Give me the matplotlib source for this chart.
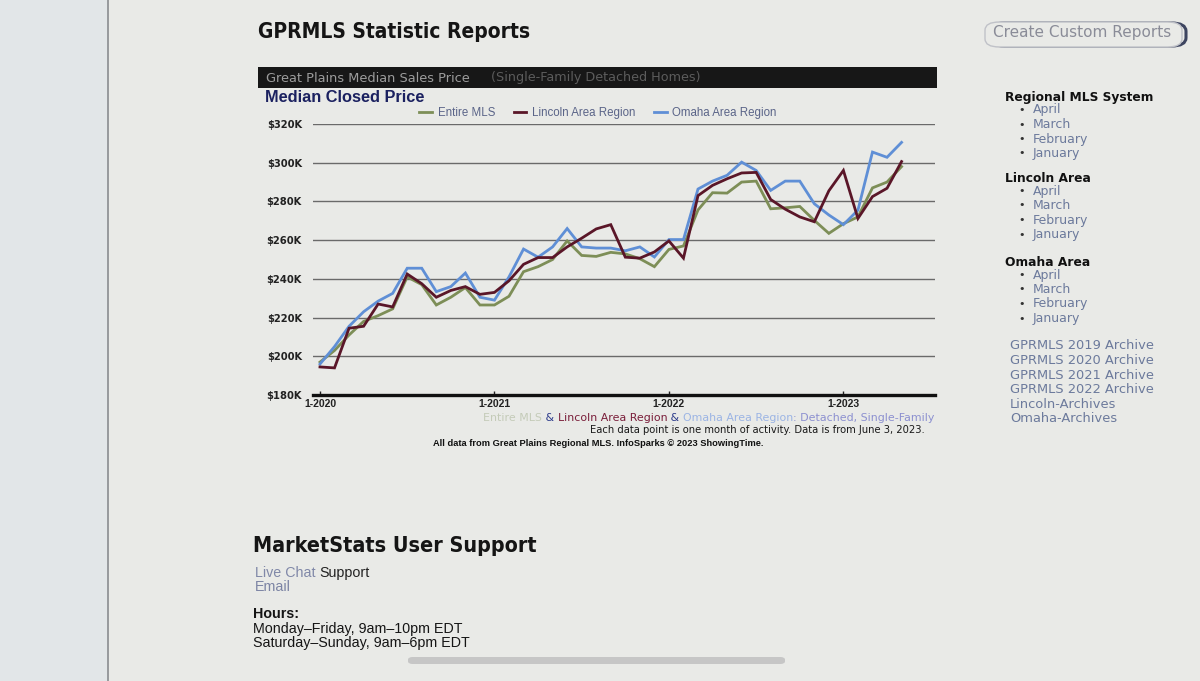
import numpy as np
import matplotlib.pyplot as plt
from matplotlib.patches import FancyBboxPatch, Rectangle
from matplotlib.lines import Line2D

W, H = 1200, 681

# monthly median closed price, $K, 1-2020 .. 5-2023
entire_mls = [197, 203, 211, 218, 221, 224.5, 241, 237, 226.5, 230.5, 235.5, 226.5,
              226.5, 231, 243.7, 246.3, 250, 259.6, 252.1, 251.6, 253.7, 252.9, 250.4, 246.3,
              255.2, 257, 275.6, 284.5, 284.3, 290, 290.5, 276.2, 276.7, 277.4, 270.2, 263.5,
              268.5, 272, 287, 290, 298]
lincoln = [194.5, 194, 214.5, 215.5, 227, 225.5, 242.5, 237.5, 230.5, 234, 236, 232,
           233, 239, 247.5, 251, 251, 256.5, 261, 265.8, 268, 251.2, 250.7, 253.9,
           259.6, 250.7, 283, 288.3, 291.7, 294.7, 295, 281, 276, 272, 269.5, 285.5,
           296, 271.2, 282.5, 286.8, 300.6]
omaha = [196, 205, 215.5, 223, 228.5, 232.5, 245.5, 245.5, 233.4, 236, 243, 230.5,
         229, 241, 255.4, 251.2, 256.5, 266, 256.5, 255.9, 255.9, 254.5, 256.5, 251.3,
         260.3, 260.3, 286.4, 290.5, 293.5, 300.3, 296, 285.7, 290.5, 290.5, 278.8, 273,
         268, 275.5, 305.5, 302.8, 310.5]
series_names = ['Entire MLS', 'Lincoln Area Region', 'Omaha Area Region']
series_colors = ['#7d8e57', '#5a1628', '#5f8fd6']

x_tick_pos = [0, 12, 24, 36]
x_tick_labels = ['1-2020', '1-2021', '1-2022', '1-2023']
y_ticks = [180, 200, 220, 240, 260, 280, 300, 320]
y_tick_labels = ['$180K', '$200K', '$220K', '$240K', '$260K', '$280K', '$300K', '$320K']

sidebar = [
    ('Regional MLS System', ['April', 'March', 'February', 'January']),
    ('Lincoln Area', ['April', 'March', 'February', 'January']),
    ('Omaha Area', ['April', 'March', 'February', 'January']),
]
archives = ['GPRMLS 2019 Archive', 'GPRMLS 2020 Archive', 'GPRMLS 2021 Archive',
            'GPRMLS 2022 Archive', 'Lincoln-Archives', 'Omaha-Archives']
hours = ['Monday\u2013Friday, 9am\u201310pm EDT', 'Saturday\u2013Sunday, 9am\u20136pm EDT']

BG = '#e9eae7'
LINK = '#6c7a9c'
SANS = ['Liberation Sans', 'DejaVu Sans']


def fx(x):
    return x / W


def fy(y):
    return 1 - y / H


fig = plt.figure(figsize=(12, 6.81), dpi=100, facecolor=BG)

# page frame
fig.patches.append(Rectangle((0, 0), fx(108), 1, transform=fig.transFigure,
                             facecolor='#e2e6e8', edgecolor='none'))
fig.add_artist(Line2D([fx(108), fx(108)], [0, 1], color='#8a8c90', lw=1.2))
fig.patches.append(FancyBboxPatch((fx(408), fy(664)), fx(785 - 408), 7 / H,
                                  boxstyle='round,pad=0,rounding_size=0.004',
                                  transform=fig.transFigure, facecolor='#c6c6c6',
                                  edgecolor='none'))

fig.text(fx(258), fy(32), 'GPRMLS Statistic Reports', fontsize=15, fontweight='heavy',
         stretch='condensed', color='#151515', va='center')

# button
fig.patches.append(FancyBboxPatch((fx(990), fy(46)), fx(196), 23 / H,
                                  boxstyle='round,pad=0,rounding_size=0.012',
                                  transform=fig.transFigure, facecolor='none',
                                  edgecolor='#3d4560', lw=2.2))
fig.patches.append(FancyBboxPatch((fx(985), fy(47)), fx(197), 25 / H,
                                  boxstyle='round,pad=0,rounding_size=0.012',
                                  transform=fig.transFigure, facecolor=BG,
                                  edgecolor='#c0c2c8', lw=1))
fig.text(fx(993), fy(33), 'Create Custom Reports', fontsize=11, color='#8a8c98', va='center')

# chart header bar
fig.patches.append(Rectangle((fx(258), fy(88)), fx(937 - 258), 21 / H,
                             transform=fig.transFigure, facecolor='#171717', edgecolor='none'))
fig.text(fx(266), fy(78), 'Great Plains Median Sales Price', fontsize=9.3, color='#9c9c9c',
         va='center')
fig.text(fx(491), fy(78), '(Single-Family Detached Homes)', fontsize=9.2, color='#5c5c5c',
         va='center')
fig.text(fx(265), fy(97), 'Median Closed Price', fontsize=11.8, fontweight='bold',
         color='#1b2160', va='center', family=SANS)

# chart
ax = fig.add_axes([fx(313), fy(395), fx(935 - 313), (395 - 124) / H])
ax.set_facecolor('none')
months = np.arange(len(entire_mls))
handles = []
for vals, name, col, z in zip([entire_mls, lincoln, omaha], series_names, series_colors, [2, 4, 3]):
    h, = ax.plot(months, vals, color=col, lw=2, label=name, zorder=z, solid_joinstyle='miter')
    handles.append(h)
ax.set_xlim(-0.48, 42.3)
ax.set_ylim(180, 320)
ax.set_yticks(y_ticks)
ax.set_yticklabels(y_tick_labels)
ax.set_xticks(x_tick_pos)
ax.set_xticklabels(x_tick_labels)
ax.grid(axis='y', color='#6a6a6a', lw=1)
ax.set_axisbelow(True)
for s in ['top', 'right', 'left']:
    ax.spines[s].set_visible(False)
ax.spines['bottom'].set_linewidth(2.4)
ax.spines['bottom'].set_color('#111111')
ax.tick_params(axis='y', length=0, pad=8, labelsize=7.2, colors='#222222')
ax.tick_params(axis='x', direction='in', length=3, width=1, pad=3, labelsize=7.5, colors='#222222')
for lab in ax.get_yticklabels():
    lab.set_fontweight('bold')
for lab in ax.get_xticklabels():
    lab.set_fontweight('bold')
    lab.set_family(SANS)

fig.legend(handles=handles, loc='center', bbox_to_anchor=(fx(598), fy(113)), ncol=3,
           frameon=False, handlelength=1.1, handletextpad=0.5,
           columnspacing=1.6, labelcolor='#5a6488', prop={'family': SANS, 'size': 8.3})

# footnotes
fig.canvas.draw()
rend = fig.canvas.get_renderer()
parts = [('Entire MLS', '#c4cbb8'), (' & ', '#2b3a8a'), ('Lincoln Area Region', '#7a1e3a'),
         (' & ', '#2b3a8a'), ('Omaha Area Region', '#9bb4e4'), (': Detached, Single-Family', '#8c90d0')]
xpos = 483
for txt, col in parts:
    t = fig.text(fx(xpos), fy(418), txt, fontsize=7.9, color=col, va='center')
    xpos += t.get_window_extent(rend).width
fig.text(fx(925), fy(430), 'Each data point is one month of activity. Data is from June 3, 2023.',
         fontsize=7.2, color='#1a1a1a', va='center', ha='right')
fig.text(fx(433), fy(443), 'All data from Great Plains Regional MLS. InfoSparks \u00a9 2023 ShowingTime.',
         fontsize=6.7, fontweight='bold', color='#111111', va='center', family=SANS)

# sidebar
head_y = [97, 178, 262]
for (head, items), hy in zip(sidebar, head_y):
    fig.text(fx(1005), fy(hy), head, fontsize=8.8, fontweight='heavy', color='#111111',
             va='center')
    for k, item in enumerate(items):
        iy = hy + 13 + k * 14.5
        fig.text(fx(1018), fy(iy), '\u2022', fontsize=8, color='#333333', va='center')
        fig.text(fx(1033), fy(iy), item, fontsize=9, color=LINK, va='center')
for k, a in enumerate(archives):
    fig.text(fx(1010), fy(346 + k * 14.6), a, fontsize=9.4, color=LINK, va='center')

# user support
fig.text(fx(253), fy(546), 'MarketStats User Support', fontsize=15.4, fontweight='heavy',
         stretch='condensed', color='#151515', va='center')
t = fig.text(fx(255), fy(573), 'Live Chat ', fontsize=10.3, color='#8088a8', va='center', family=SANS)
fig.text(fx(255) + t.get_window_extent(rend).width / W, fy(573), 'Support', fontsize=10.3,
         color='#222222', va='center', family=SANS)
fig.text(fx(255), fy(587), 'Email', fontsize=10.3, color='#7c84a4', va='center', family=SANS)
fig.text(fx(253), fy(614), 'Hours:', fontsize=10.3, fontweight='bold', color='#151515',
         va='center', family=SANS)
for k, line in enumerate(hours):
    fig.text(fx(253), fy(629 + k * 14.5), line, fontsize=10.3, color='#151515', va='center',
             family=SANS)

fig.savefig('out.png', dpi=100, facecolor=BG)
